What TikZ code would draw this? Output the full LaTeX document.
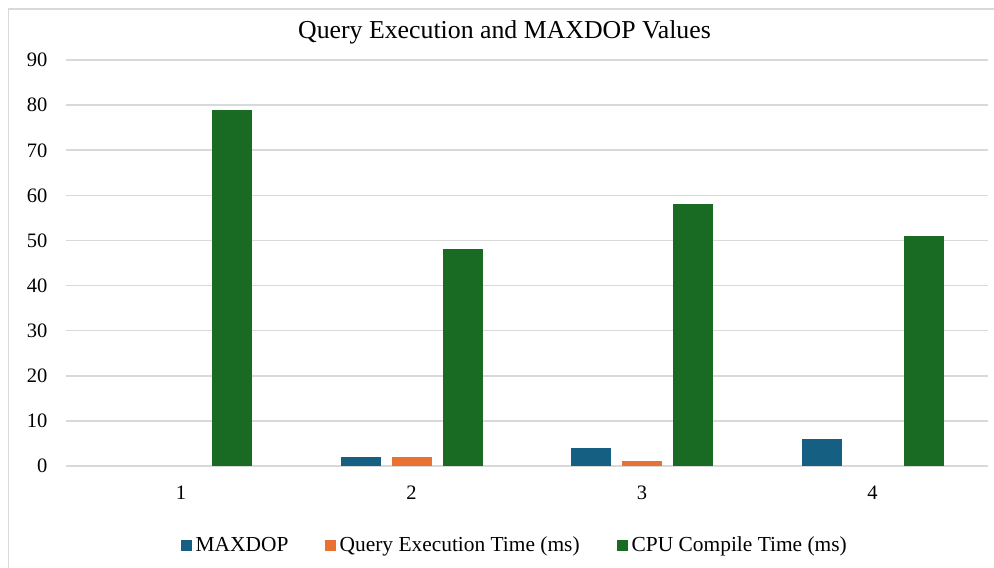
\documentclass[tikz,border=0pt]{standalone}
\usepackage{fontspec}
\setmainfont{Liberation Serif}
\definecolor{cmax}{HTML}{156082}
\definecolor{cqet}{HTML}{E97132}
\definecolor{ccpu}{HTML}{196B24}
\definecolor{gridc}{HTML}{D9D9D9}
\newcommand\colbar[3]{\fill[#3] ({#1-20},466) rectangle ({#1+20},{466-4.511*#2});}
\tikzset{
  axlab/.style={font=\fontsize{20.5}{24}\selectfont, inner sep=0pt},
  legtext/.style={font=\fontsize{21.4}{24}\selectfont, inner sep=0pt, anchor=base west},
  legsq/.style={inner sep=0pt, minimum size=11pt, anchor=north west},
  gridline/.style={gridc, line width=1.5pt}
}
\begin{document}
\begin{tikzpicture}[x=1pt,y=-1pt]
\useasboundingbox (0,0) rectangle (994,568);
\fill[white] (0,0) rectangle (994,568);
% chart border
\draw[gridc, line width=1.5pt] (8.5,568) -- (8.5,9) -- (994,9);
% title
\node[font=\fontsize{25.8}{30}\selectfont, inner sep=0pt, anchor=base] (title) at (504.5,38.5) {Query Execution and MAXDOP Values};
% gridlines and y labels
\foreach \v in {0,10,...,90}{
  \draw[gridline] (66,{466-4.511*\v}) -- (988,{466-4.511*\v});
  \node[axlab, anchor=base east] (ylab\v) at (47.5,{466-4.511*\v+6.8}) {\v};
}
% bars
\colbar{411.5-51}{2}{cmax}
\colbar{642-51}{4}{cmax}
\colbar{872.5-51}{6}{cmax}
\colbar{411.5}{2}{cqet}
\colbar{642}{1}{cqet}
\colbar{181+51}{79}{ccpu}
\colbar{411.5+51}{48}{ccpu}
\colbar{642+51}{58}{ccpu}
\colbar{872.5+51}{51}{ccpu}
% category labels
\node[axlab, anchor=base] (cat1) at (181,499) {1};
\node[axlab, anchor=base] (cat2) at (411.5,499) {2};
\node[axlab, anchor=base] (cat3) at (642,499) {3};
\node[axlab, anchor=base] (cat4) at (872.5,499) {4};
% legend
\node[legsq, fill=cmax] (sq1) at (181,540) {};
\node[legtext] (leg1) at (195.5,551.5) {MAXDOP};
\node[legsq, fill=cqet] (sq2) at (325,540) {};
\node[legtext] (leg2) at (339.5,551.5) {Query Execution Time (ms)};
\node[legsq, fill=ccpu] (sq3) at (617,540) {};
\node[legtext] (leg3) at (631.5,551.5) {CPU Compile Time (ms)};
\end{tikzpicture}
\end{document}
